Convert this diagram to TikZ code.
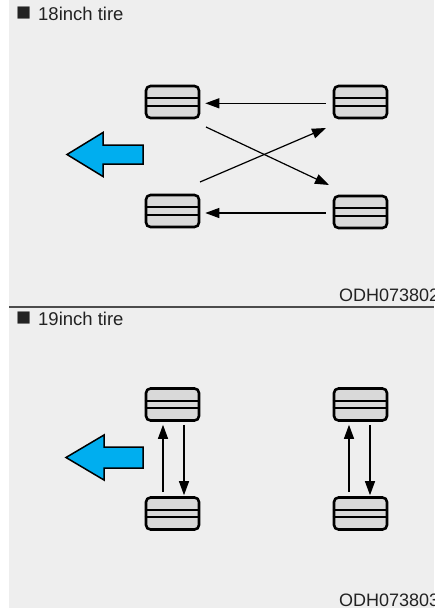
\documentclass[tikz,border=0pt]{standalone}
\usepackage{fontspec}
\setmainfont{Liberation Sans}
\usetikzlibrary{arrows.meta}
\definecolor{bg}{HTML}{EEEEEE}
\definecolor{tiregray}{HTML}{D9D9D9}
\definecolor{arrowblue}{HTML}{00AEEF}
\definecolor{txt}{HTML}{222222}
\tikzset{
  tire/.style={draw=black, fill=tiregray, line width=2.6pt, rounded corners=4.5pt,
    minimum width=53pt, minimum height=32pt, inner sep=0pt},
  rot/.style={line width=1.2pt, -{Triangle[length=14pt,width=10pt]}},
  title/.style={anchor=base west, inner sep=0pt, text=txt, font=\fontsize{18.5}{20}\selectfont},
  sq/.style={anchor=base west, inner sep=0pt, text=txt, font=\fontsize{25}{25}\selectfont},
  code/.style={anchor=base west, inner sep=0pt, text=txt, font=\fontsize{18}{21}\selectfont},
  bluearrow/.style={fill=arrowblue, draw=black, line width=1.5pt, line join=miter},
}
\newcommand{\tirelines}[1]{%
  \draw[line width=1.9pt] ([yshift=3.8pt]#1.west) -- ([yshift=3.8pt]#1.east);
  \draw[line width=1.9pt] ([yshift=-3.8pt]#1.west) -- ([yshift=-3.8pt]#1.east);
}
\begin{document}
\begin{tikzpicture}[x=1pt,y=-1pt]
\useasboundingbox (0,0) rectangle (434,608);
\clip (0,0) rectangle (434,608);
\fill[bg] (9,0) rectangle (434,608);
% separator
\draw[line width=1.5pt, color=black!70] (9,307) -- (434,307);

% ---------- top panel ----------
\node[sq] (s1) at (16,20) {■};
\node[title] (t1) at (38,20) {18inch tire};
\node[code] (c1) at (339,301) {ODH073802};

\node[tire] (a1) at (172.5,102) {};
\node[tire] (a2) at (360.5,102) {};
\node[tire] (a3) at (172.5,211) {};
\node[tire] (a4) at (360.5,212) {};
\foreach \n in {a1,a2,a3,a4}{\tirelines{\n}}

\draw[rot, shorten <=7pt, shorten >=5pt] ([yshift=-1.3pt]a2.west) -- ([yshift=-1.3pt]a1.west -| a1.east);
\draw[rot, shorten <=7pt, shorten >=5pt] ([yshift=-1pt]a4.west) -- ([yshift=-1pt]a4.west -| a3.east);
\coordinate (x1s) at (206,127);
\coordinate (x1e) at (329,185);
\coordinate (x2s) at (200,182);
\coordinate (x2e) at (326,128);
\draw[rot] (x1s) -- (x1e);
\draw[rot] (x2s) -- (x2e);

\draw[bluearrow] (67,154.5) -- (103,132.5) -- (103,145) -- (143,145) -- (143,164) -- (103,164) -- (103,176.5) -- cycle;

% ---------- bottom panel ----------
\node[sq] (s2) at (16,325) {■};
\node[title] (t2) at (38,325) {19inch tire};
\node[code] (c2) at (339,606) {ODH073803};

\node[tire] (b1) at (172.5,404.5) {};
\node[tire] (b2) at (360.5,404.5) {};
\node[tire] (b3) at (172.5,513.5) {};
\node[tire] (b4) at (360.5,513.5) {};
\foreach \n in {b1,b2,b3,b4}{\tirelines{\n}}

\draw[rot, shorten <=4pt, shorten >=3pt] ([xshift=-9.5pt]b3.north) -- ([xshift=-9.5pt]b1.south);
\draw[rot, shorten <=3pt, shorten >=1pt] ([xshift=11.5pt]b1.south) -- ([xshift=11.5pt]b3.north);
\draw[rot, shorten <=4pt, shorten >=3pt] ([xshift=-11.5pt]b4.north) -- ([xshift=-11.5pt]b2.south);
\draw[rot, shorten <=3pt, shorten >=1pt] ([xshift=9.5pt]b2.south) -- ([xshift=9.5pt]b4.north);

\draw[bluearrow] (66,457.5) -- (104,435) -- (104,447) -- (143,447) -- (143,468) -- (104,468) -- (104,480) -- cycle;
\end{tikzpicture}
\end{document}
